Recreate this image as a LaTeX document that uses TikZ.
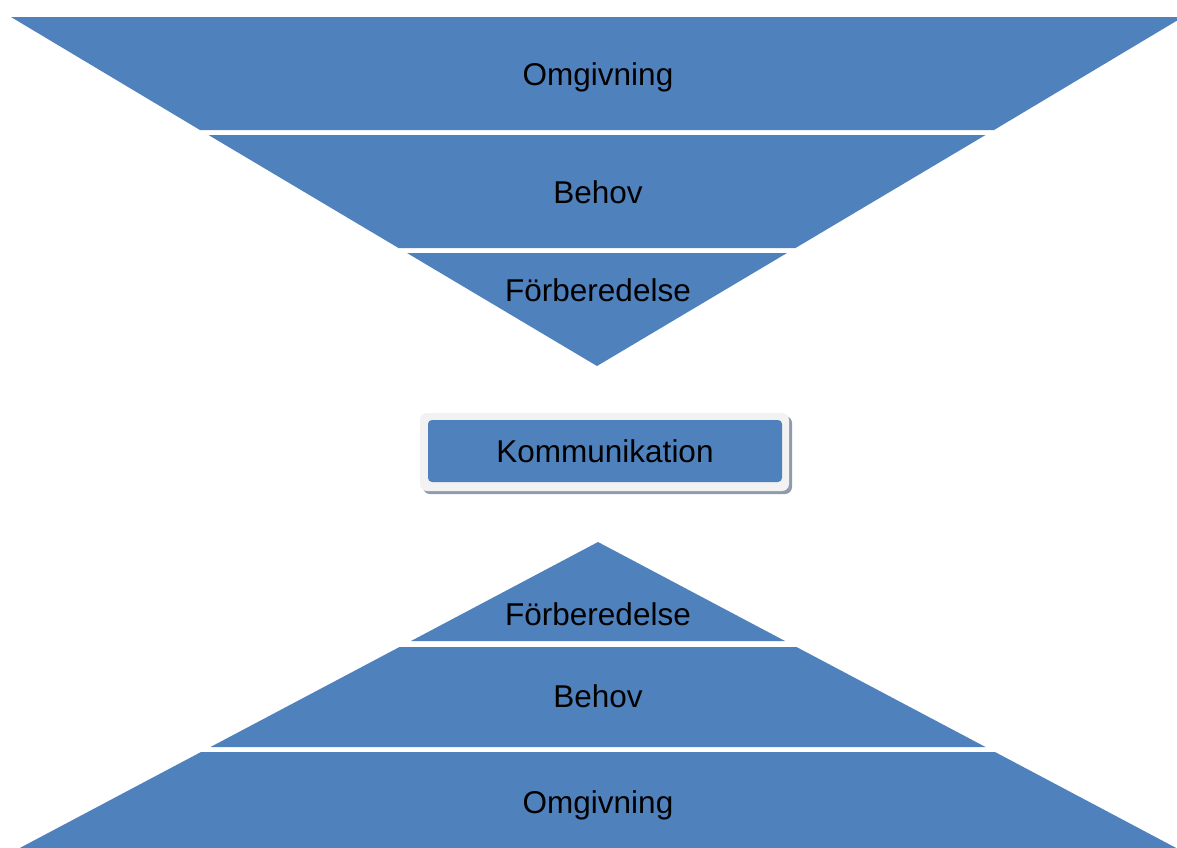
\documentclass[tikz,border=0pt]{standalone}
\usepackage{fontspec}
\setmainfont{Liberation Sans}
\definecolor{band}{HTML}{4F81BD}
\definecolor{frame}{HTML}{F2F2F2}
\definecolor{shade}{HTML}{8E9BAE}
\begin{document}
\begin{tikzpicture}[x=1pt,y=-1pt,
  bandfill/.style={fill=band,draw=none},
  lbl/.style={anchor=base,inner sep=0pt,font=\fontsize{31.5}{38}\selectfont}]
\useasboundingbox (0,0) rectangle (1177,847);
\clip (0,0) rectangle (1177,847);
% top funnel
\path[bandfill] (11,17) -- (1183,17) -- (994,130) -- (200,130) -- cycle;
\path[bandfill] (208.5,135) -- (985.5,135) -- (795.5,248) -- (398.5,248) -- cycle;
\path[bandfill] (407,253) -- (787,253) -- (597,366) -- cycle;
% bottom pyramid
\path[bandfill] (598,542) -- (785,641) -- (411,641) -- cycle;
\path[bandfill] (399.5,647) -- (796.5,647) -- (985.5,747) -- (210.5,747) -- cycle;
\path[bandfill] (201,752) -- (995,752) -- (1197,859) -- (-1,859) -- cycle;
% middle box
\path[fill=shade,rounded corners=7pt] (423,416) rectangle (792,494);
\path[fill=frame,rounded corners=7pt] (420,413) rectangle (789,491);
\path[fill=band,rounded corners=4pt] (428,420) rectangle (782,482);
% labels
\node[lbl] (t1) at (598,85) {Omgivning};
\node[lbl] (t2) at (598,203) {Behov};
\node[lbl] (t3) at (598,301) {Förberedelse};
\node[lbl] (k) at (605,462) {Kommunikation};
\node[lbl] (b3) at (598,625) {Förberedelse};
\node[lbl] (b2) at (598,707) {Behov};
\node[lbl] (b1) at (598,813) {Omgivning};
\end{tikzpicture}
\end{document}
